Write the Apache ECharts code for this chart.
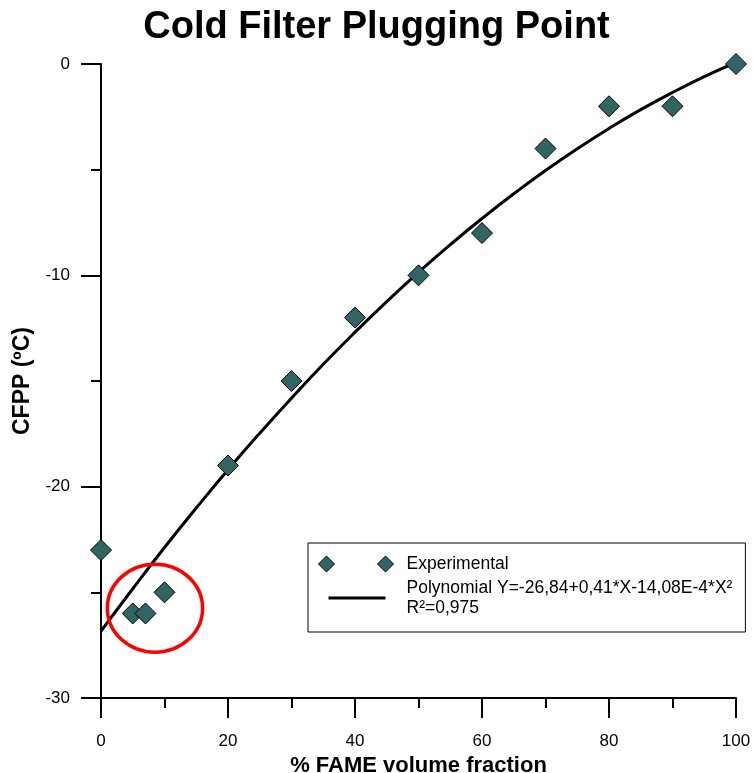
<!DOCTYPE html>
<html>
<head>
<meta charset="utf-8">
<script src="https://cdn.jsdelivr.net/npm/echarts@6/dist/echarts.min.js"></script>
<style>
  html, body { margin: 0; padding: 0; background: #fff; }
  #chart { width: 753px; height: 773px; }
</style>
</head>
<body>
<div id="chart"></div>
<script>
// experimental points (% FAME, CFPP in ºC)
const xExp = [0, 5, 7, 10, 20, 30, 40, 50, 60, 70, 80, 90, 100];
const yExp = [-23, -26, -26, -25, -19, -15, -12, -10, -8, -4, -2, -2, 0];

// fitted curve
const xFit = [0, 5, 10, 15, 20, 25, 30, 35, 40, 45, 50, 55, 60, 65, 70, 75, 80, 85, 90, 95, 100];
const yFit = [-26.84, -24.83, -22.88, -21.01, -19.20, -17.47, -15.81, -14.21, -12.69, -11.24, -9.86,
              -8.55, -7.31, -6.14, -5.04, -4.01, -3.05, -2.16, -1.35, -0.60, 0.08];

// red circle around the low-blend points: centre and half-extents in data units
const circleCenter = [8.5, -25.75];
const circleHalf = [7.5, 2.08];

const expName = 'Experimental';
const fitName = 'Polynomial Y=-26,84+0,41*X-14,08E-4*X²';

const font = 'Liberation Sans, Arial, sans-serif';
const green = '#326464';

var myChart = echarts.init(document.getElementById('chart'));

const option = {
  animation: false,
  title: {
    text: 'Cold Filter Plugging Point',
    left: 'center',
    top: 9,
    padding: 0,
    textStyle: { fontFamily: font, fontSize: 38, fontWeight: 'bold', color: '#000' }
  },
  grid: { left: 101, right: 17, top: 64, bottom: 75, outerBoundsMode: 'none' },
  legend: {
    orient: 'vertical',
    left: 308,
    top: 543,
    padding: [11, 13, 14, 10],
    borderColor: '#000',
    borderWidth: 1,
    itemWidth: 83,
    itemHeight: 16,
    itemGap: 4,
    textStyle: { fontFamily: font, fontSize: 17.5, color: '#000', lineHeight: 20 },
    formatter: function (name) {
      return name === fitName ? name + '\nR²=0,975' : name;
    },
    data: [
      {
        name: expName,
        icon: 'path://M0,8L8,0L16,8L8,16Z M59,8L67,0L75,8L67,16Z M83,16L83,16',
        itemStyle: { color: green, borderColor: '#000', borderWidth: 1 }
      },
      {
        name: fitName,
        icon: 'path://M0,0L0,0 M10,6.6L67,6.6L67,9.4L10,9.4Z M83,16L83,16',
        itemStyle: { color: '#000', borderWidth: 0 }
      }
    ]
  },
  xAxis: {
    type: 'value',
    min: 0, max: 100, interval: 20,
    name: '% FAME volume fraction',
    nameLocation: 'middle',
    nameGap: 50,
    nameTextStyle: { fontFamily: font, fontSize: 22, fontWeight: 'bold', color: '#000' },
    axisLine: { onZero: false, lineStyle: { color: '#000', width: 2 } },
    axisTick: { inside: false, length: 20, lineStyle: { color: '#000', width: 2 } },
    minorTick: { show: true, splitNumber: 2, length: 10, lineStyle: { color: '#000', width: 2 } },
    axisLabel: { margin: 35, fontFamily: font, fontSize: 17, color: '#000' },
    splitLine: { show: false }
  },
  yAxis: {
    type: 'value',
    min: -30, max: 0, interval: 10,
    name: 'CFPP (ºC)',
    nameLocation: 'middle',
    nameGap: 65,
    nameTextStyle: { fontFamily: font, fontSize: 23, fontWeight: 'bold', color: '#000' },
    axisLine: { show: true, onZero: false, lineStyle: { color: '#000', width: 2 } },
    axisTick: { show: true, inside: false, length: 20, lineStyle: { color: '#000', width: 2 } },
    minorTick: { show: true, splitNumber: 2, length: 10, lineStyle: { color: '#000', width: 2 } },
    axisLabel: { margin: 31, fontFamily: font, fontSize: 17, color: '#000' },
    splitLine: { show: false }
  },
  series: [
    {
      name: fitName,
      type: 'line',
      data: xFit.map((x, i) => [x, yFit[i]]),
      smooth: true,
      showSymbol: false,
      color: '#000',
      lineStyle: { color: '#000', width: 3 },
      z: 2
    },
    {
      name: expName,
      type: 'scatter',
      data: xExp.map((x, i) => [x, yExp[i]]),
      symbol: 'diamond',
      symbolSize: 21,
      itemStyle: { color: green, borderColor: '#000', borderWidth: 1, opacity: 1 },
      z: 3
    }
  ]
};

option && myChart.setOption(option);

// red ellipse annotation, placed through the chart's own scales
const c = myChart.convertToPixel({ gridIndex: 0 }, circleCenter);
const e = myChart.convertToPixel({ gridIndex: 0 }, [circleCenter[0] + circleHalf[0], circleCenter[1] + circleHalf[1]]);
myChart.setOption({
  graphic: [{
    type: 'ellipse',
    shape: { cx: c[0], cy: c[1], rx: Math.abs(e[0] - c[0]), ry: Math.abs(e[1] - c[1]) },
    style: { fill: null, stroke: '#ff0000', lineWidth: 3.5 },
    z: 10
  }]
});
</script>
</body>
</html>
